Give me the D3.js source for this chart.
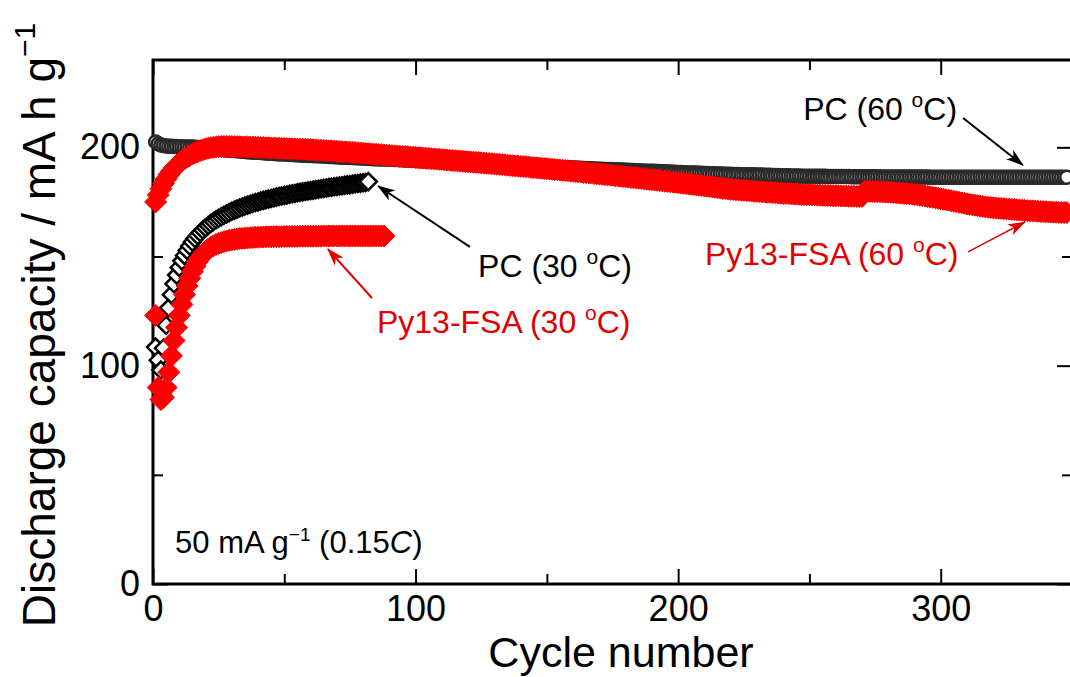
<!DOCTYPE html>
<html>
<head>
<meta charset="utf-8">
<script src="https://cdn.jsdelivr.net/npm/d3@7"></script>
<style>
  body { margin: 0; background: #fff; }
  svg { display: block; }
  text { font-family: "Liberation Sans", Arial, sans-serif; }
</style>
</head>
<body>
<script>
// discharge capacity (mA h g-1) per cycle
const pc60 = [
  202.5,201.6,201.1,200.8,200.6,200.5,200.5,200.4,200.4,200.3,
  200.3,200.2,200.2,200.1,200.1,200.0,199.9,199.8,199.7,199.6,
  199.5,199.4,199.3,199.2,199.1,199.0,198.9,198.8,198.7,198.6,
  198.5,198.4,198.3,198.2,198.1,198.0,197.9,197.8,197.7,197.7,
  197.6,197.5,197.4,197.3,197.3,197.2,197.1,197.0,197.0,196.9,
  196.8,196.8,196.7,196.6,196.6,196.5,196.4,196.4,196.3,196.3,
  196.2,196.1,196.1,196.0,196.0,195.9,195.8,195.8,195.7,195.7,
  195.6,195.5,195.5,195.4,195.4,195.3,195.2,195.2,195.1,195.1,
  195.0,194.9,194.9,194.8,194.8,194.7,194.7,194.6,194.6,194.5,
  194.5,194.4,194.4,194.3,194.3,194.2,194.2,194.1,194.1,194.0,
  193.9,193.9,193.8,193.8,193.7,193.7,193.6,193.5,193.5,193.4,
  193.4,193.3,193.2,193.2,193.1,193.1,193.0,192.9,192.9,192.8,
  192.8,192.7,192.6,192.6,192.5,192.5,192.4,192.3,192.3,192.2,
  192.2,192.1,192.0,192.0,191.9,191.9,191.8,191.7,191.7,191.6,
  191.6,191.5,191.4,191.4,191.3,191.3,191.2,191.1,191.1,191.0,
  191.0,190.9,190.9,190.8,190.8,190.7,190.7,190.6,190.6,190.5,
  190.5,190.4,190.4,190.3,190.3,190.2,190.2,190.1,190.1,190.0,
  190.0,189.9,189.9,189.8,189.8,189.7,189.7,189.6,189.6,189.5,
  189.5,189.4,189.4,189.3,189.3,189.2,189.2,189.1,189.1,189.0,
  189.0,188.9,188.9,188.8,188.8,188.7,188.7,188.6,188.6,188.5,
  188.5,188.4,188.4,188.3,188.3,188.2,188.2,188.1,188.1,188.0,
  188.0,187.9,187.9,187.9,187.8,187.8,187.8,187.7,187.7,187.7,
  187.6,187.6,187.6,187.5,187.5,187.5,187.4,187.4,187.4,187.3,
  187.3,187.3,187.2,187.2,187.2,187.1,187.1,187.1,187.0,187.0,
  187.0,187.0,186.9,186.9,186.9,186.9,186.8,186.8,186.8,186.8,
  186.8,186.7,186.7,186.7,186.7,186.7,186.6,186.6,186.6,186.6,
  186.6,186.6,186.6,186.6,186.6,186.5,186.5,186.5,186.5,186.5,
  186.5,186.5,186.5,186.5,186.5,186.5,186.4,186.4,186.4,186.4,
  186.4,186.4,186.4,186.4,186.4,186.4,186.4,186.4,186.4,186.4,
  186.4,186.4,186.4,186.4,186.4,186.3,186.3,186.3,186.3,186.3,
  186.3,186.3,186.3,186.3,186.3,186.3,186.3,186.3,186.3,186.3,
  186.3,186.3,186.3,186.3,186.3,186.3,186.3,186.3,186.3,186.3,
  186.3,186.3,186.3,186.3,186.3,186.3,186.3,186.3,186.3,186.3,
  186.3,186.3,186.3,186.3,186.3,186.3,186.3,186.3,186.3,186.3,
  186.3,186.3,186.3,186.3,186.3,186.3,186.3,186.3
];

const py60 = [
  175.0,178.2,181.0,183.4,185.5,187.4,189.0,190.5,191.7,192.8,
  193.8,194.7,195.5,196.2,196.9,197.5,198.0,198.5,198.9,199.3,
  199.6,199.8,200.0,200.2,200.3,200.4,200.4,200.4,200.4,200.4,
  200.3,200.3,200.3,200.2,200.2,200.2,200.1,200.1,200.0,200.0,
  199.9,199.9,199.8,199.8,199.7,199.7,199.6,199.6,199.5,199.5,
  199.4,199.4,199.3,199.3,199.2,199.2,199.1,199.1,199.0,199.0,
  198.9,198.8,198.7,198.7,198.6,198.5,198.4,198.4,198.3,198.2,
  198.1,198.0,197.9,197.9,197.8,197.7,197.6,197.5,197.4,197.3,
  197.2,197.1,197.0,196.9,196.8,196.7,196.6,196.5,196.4,196.3,
  196.2,196.1,196.0,195.9,195.8,195.8,195.7,195.6,195.5,195.4,
  195.3,195.2,195.1,195.0,194.9,194.8,194.7,194.6,194.5,194.4,
  194.3,194.2,194.1,194.0,193.9,193.8,193.7,193.6,193.5,193.4,
  193.3,193.2,193.1,193.0,192.9,192.8,192.7,192.6,192.5,192.4,
  192.3,192.2,192.1,192.0,191.8,191.7,191.6,191.5,191.4,191.3,
  191.2,191.1,191.0,190.8,190.7,190.6,190.5,190.4,190.3,190.2,
  190.1,190.0,189.8,189.7,189.6,189.5,189.4,189.3,189.1,189.0,
  188.9,188.8,188.7,188.5,188.4,188.3,188.2,188.0,187.9,187.8,
  187.7,187.5,187.4,187.3,187.2,187.0,186.9,186.8,186.6,186.5,
  186.4,186.2,186.1,186.0,185.8,185.7,185.6,185.4,185.3,185.2,
  185.0,184.9,184.8,184.6,184.5,184.4,184.2,184.1,184.0,183.8,
  183.7,183.5,183.4,183.2,183.1,182.9,182.8,182.6,182.5,182.3,
  182.2,182.0,181.9,181.7,181.5,181.4,181.2,181.1,180.9,180.8,
  180.7,180.6,180.5,180.4,180.3,180.2,180.1,180.0,179.9,179.8,
  179.7,179.6,179.5,179.4,179.4,179.3,179.2,179.1,179.0,178.9,
  178.9,178.8,178.7,178.6,178.6,178.5,178.4,178.4,178.3,178.3,
  178.2,178.2,178.1,178.1,178.0,178.0,177.9,177.9,177.8,177.8,
  177.8,177.7,177.7,177.7,177.6,177.6,177.6,177.5,177.5,177.5,
  179.9,179.9,179.8,179.8,179.7,179.7,179.6,179.6,179.5,179.5,
  179.4,179.3,179.2,179.1,179.0,178.9,178.8,178.7,178.6,178.4,
  178.3,178.1,177.9,177.7,177.5,177.3,177.1,176.9,176.7,176.5,
  176.2,176.0,175.8,175.5,175.3,175.1,174.8,174.6,174.4,174.1,
  173.9,173.7,173.5,173.3,173.1,172.9,172.7,172.6,172.4,172.3,
  172.2,172.1,172.0,171.9,171.8,171.7,171.6,171.5,171.4,171.3,
  171.2,171.1,171.0,170.9,170.9,170.8,170.7,170.6,170.6,170.5,
  170.4,170.4,170.3,170.3,170.2,170.2,170.1,170.1
];

const pc30 = [
  108.5,102.5,98.0,108.0,118.5,126.5,132.5,137.5,141.5,145.0,
  148.0,150.5,152.8,154.8,156.6,158.2,159.6,160.9,162.1,163.2,
  164.2,165.1,166.0,166.8,167.5,168.2,168.9,169.5,170.1,170.7,
  171.2,171.7,172.2,172.7,173.1,173.5,173.9,174.3,174.7,175.0,
  175.4,175.7,176.0,176.3,176.6,176.9,177.2,177.5,177.7,178.0,
  178.2,178.5,178.7,178.9,179.2,179.4,179.6,179.8,180.0,180.2,
  180.4,180.6,180.8,181.0,181.2,181.4,181.6,181.7,181.9,182.1,
  182.3,182.4,182.6,182.8,182.9,183.1,183.3,183.4,183.6,183.8,
  183.9,184.3
];

const py30 = [
  123.0,90.0,84.5,85.5,90.0,97.0,104.5,111.5,117.5,123.0,
  128.0,132.5,136.5,140.0,143.0,145.5,147.7,149.5,151.0,152.3,
  153.4,154.2,154.9,155.5,156.0,156.4,156.8,157.1,157.4,157.6,
  157.8,158.0,158.2,158.3,158.4,158.5,158.6,158.7,158.8,158.8,
  158.9,158.9,159.0,159.0,159.0,159.1,159.1,159.1,159.1,159.2,
  159.2,159.2,159.2,159.2,159.2,159.3,159.3,159.3,159.3,159.3,
  159.3,159.3,159.3,159.3,159.4,159.4,159.4,159.4,159.4,159.4,
  159.4,159.4,159.4,159.4,159.4,159.4,159.4,159.4,159.4,159.4,
  159.4,159.4,159.4,159.4,159.4,159.4,159.4,159.4
];

const xMajor = [0, 100, 200, 300];
const xMinor = [50, 150, 250];
const yMajor = [0, 100, 200];
const yMinor = [50, 150];

// labels placed in data units: [cycle, capacity]
const notes = [
  {text: "PC (60 ", at: [247.6, 212.5], from: [308.5, 213.4], to: [331.3, 191.9], color: "#000", w: 2},
  {text: "Py13-FSA (60 ", at: [210.2, 146.1], from: [310.4, 152.1], to: [332.1, 165.8], color: "#e00000", w: 1.5},
  {text: "PC (30 ", at: [123.8, 140.6], from: [120.7, 154.4], to: [85.7, 182.3], color: "#000", w: 2},
  {text: "Py13-FSA (30 ", at: [85.3, 115.0], from: [83.4, 131.0], to: [66.6, 153.4], color: "#e00000", w: 2}
];

const width = 1070, height = 677;
const x = d3.scaleLinear().domain([0, 350]).range([153, 1072]);
const y = d3.scaleLinear().domain([0, 240]).range([584, 60]);

const svg = d3.select("body").append("svg")
    .attr("width", width)
    .attr("height", height);

const defs = svg.append("defs");
[["arrBlack", "#000"], ["arrRed", "#e00000"]].forEach(([id, c]) => {
  defs.append("marker")
      .attr("id", id)
      .attr("markerUnits", "userSpaceOnUse")
      .attr("markerWidth", 18).attr("markerHeight", 12)
      .attr("refX", 17).attr("refY", 6)
      .attr("orient", "auto")
    .append("path")
      .attr("d", "M0,0L18,6L0,12L5,6Z")
      .attr("fill", c);
});

// frame
svg.append("rect")
    .attr("x", x(0)).attr("y", y(240))
    .attr("width", x(350) - x(0)).attr("height", y(0) - y(240))
    .attr("fill", "none").attr("stroke", "#000").attr("stroke-width", 3);

function drawAxis(axis, tx, ty, labels) {
  const g = svg.append("g").attr("transform", `translate(${tx},${ty})`).call(axis);
  g.select(".domain").remove();
  g.selectAll(".tick line").attr("stroke", "#000").attr("stroke-width", 2);
  g.selectAll(".tick text")
      .attr("fill", "#000")
      .style("font-family", '"Liberation Sans", Arial, sans-serif')
      .style("font-size", "36px");
  if (!labels) g.selectAll(".tick text").remove();
  return g;
}

drawAxis(d3.axisBottom(x).tickValues(xMajor).tickSize(-15).tickPadding(11), 0, y(0), true);
drawAxis(d3.axisBottom(x).tickValues(xMinor).tickSize(-10), 0, y(0), false);
drawAxis(d3.axisTop(x).tickValues(xMajor).tickSize(-15), 0, y(240), false);
drawAxis(d3.axisTop(x).tickValues(xMinor).tickSize(-10), 0, y(240), false);
drawAxis(d3.axisLeft(y).tickValues(yMajor).tickSize(-15).tickPadding(13), x(0), 0, true);
drawAxis(d3.axisLeft(y).tickValues(yMinor).tickSize(-10), x(0), 0, false);
drawAxis(d3.axisRight(y).tickValues(yMajor).tickSize(-15), x(350), 0, false);
drawAxis(d3.axisRight(y).tickValues(yMinor).tickSize(-10), x(350), 0, false);

// axis titles
svg.append("text")
    .attr("x", 621).attr("y", 667)
    .attr("text-anchor", "middle")
    .style("font-size", "43px")
    .text("Cycle number");

const yt = svg.append("text")
    .attr("transform", "translate(55,325) rotate(-90)")
    .attr("text-anchor", "middle")
    .style("font-size", "46px");
yt.append("tspan").text("Discharge capacity / mA h g");
yt.append("tspan").attr("dy", -20).style("font-size", "30px").text("\u22121");

// series
const diamond = r => `M0,${-r}L${r},0L0,${r}L${-r},0Z`;

function series(vals, shape, fill, stroke, sw) {
  const pts = vals.map((v, i) => ({c: i + 1, v}));
  const g = svg.append("g");
  if (shape === "circle") {
    g.selectAll("circle").data(pts).join("circle")
        .attr("cx", d => x(d.c)).attr("cy", d => y(d.v)).attr("r", 6.5)
        .attr("fill", fill).attr("stroke", stroke).attr("stroke-width", sw);
  } else {
    g.selectAll("path").data(pts).join("path")
        .attr("d", diamond(shape))
        .attr("transform", d => `translate(${x(d.c)},${y(d.v)})`)
        .attr("fill", fill).attr("stroke", stroke).attr("stroke-width", sw);
  }
}

series(pc60, "circle", "#fff", "#2a2a2a", 2.5);
series(pc30, 8.5, "#fff", "#000", 2.5);
series(py30, 11, "#ff0000", "#ff0000", 1);
series(py60, 11, "#ff0000", "#ff0000", 1);

// annotations
notes.forEach(n => {
  svg.append("line")
      .attr("x1", x(n.from[0])).attr("y1", y(n.from[1]))
      .attr("x2", x(n.to[0])).attr("y2", y(n.to[1]))
      .attr("stroke", n.color).attr("stroke-width", n.w)
      .attr("marker-end", n.color === "#000" ? "url(#arrBlack)" : "url(#arrRed)");
  const t = svg.append("text")
      .attr("x", x(n.at[0])).attr("y", y(n.at[1]))
      .attr("fill", n.color)
      .style("font-size", "32px");
  t.append("tspan").text(n.text);
  t.append("tspan").attr("dy", -13).style("font-size", "21px").text("o");
  t.append("tspan").attr("dy", 13).text("C)");
});

const rate = svg.append("text")
    .attr("x", x(8.4)).attr("y", y(14.2))
    .style("font-size", "31px");
rate.append("tspan").text("50 mA g");
rate.append("tspan").attr("dy", -12).style("font-size", "19px").text("\u22121");
rate.append("tspan").attr("dy", 12).text(" (0.15");
rate.append("tspan").style("font-style", "italic").text("C");
rate.append("tspan").text(")");
</script>
</body>
</html>
